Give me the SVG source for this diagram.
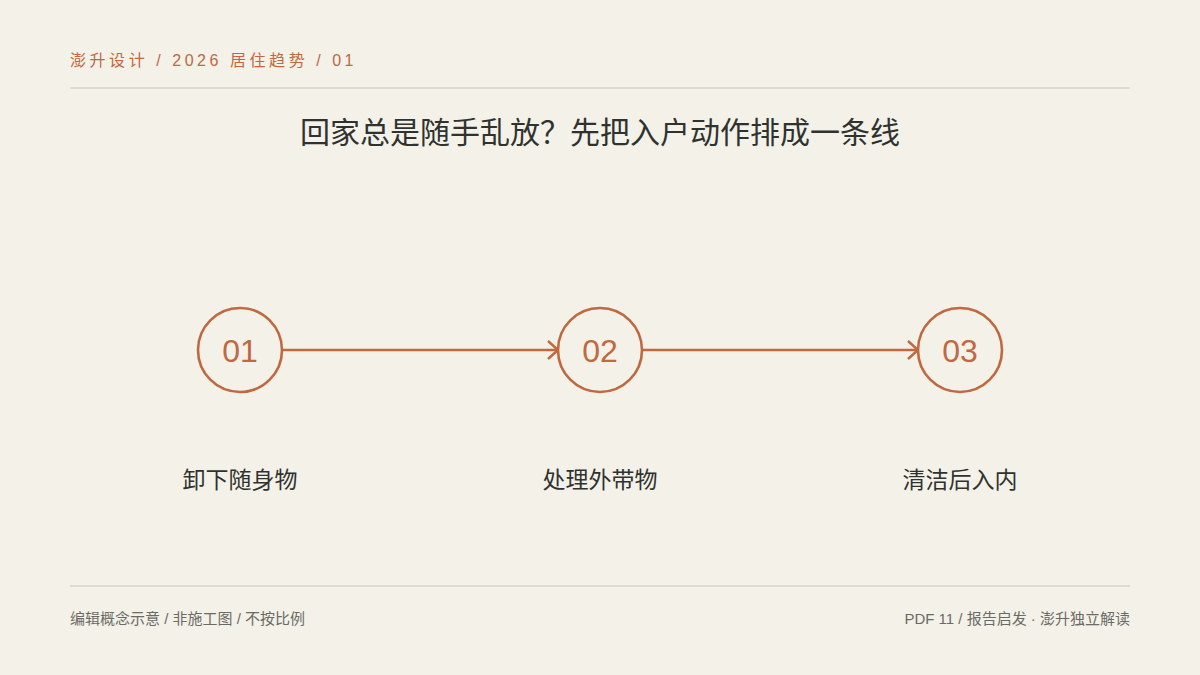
<svg xmlns="http://www.w3.org/2000/svg" width="1200" height="675" viewBox="0 0 1200 675">
<style>
text{font-family:"Liberation Sans","Noto Sans CJK SC",sans-serif}
.hdr{font-size:16px;fill:#c0683f;letter-spacing:3.55px}
.title{font-family:"Noto Sans CJK SC",sans-serif;font-size:30px;fill:#2f3330;text-anchor:middle}
.rule{stroke:#dfdbd3;stroke-width:2}
.node circle{fill:none;stroke:#c0683f;stroke-width:2.6}
.num{font-size:32px;fill:#c0683f;text-anchor:middle}
.lbl{font-family:"Noto Sans CJK SC",sans-serif;font-size:23px;fill:#2f3330;text-anchor:middle}
.edge{stroke:#c0683f;stroke-width:2.6;fill:none}
.foot{font-size:15px;fill:#6b6b66}
</style>
<defs>
<marker id="arr" viewBox="0 0 12 20" refX="11" refY="10" markerWidth="12" markerHeight="20" markerUnits="userSpaceOnUse" orient="auto">
<path d="M1,1 L11,10 L1,19" fill="none" stroke="#c0683f" stroke-width="2.4"/>
</marker>
</defs>
<rect width="1200" height="675" fill="#f4f1e9"/>
<text class="hdr" x="70" y="66">澎升设计 / 2026 居住趋势 / 01</text>
<line class="rule" x1="70" y1="88" x2="1130" y2="88"/>
<text class="title" x="600" y="143">回家总是随手乱放？先把入户动作排成一条线</text>
<g id="connectors">
<line class="edge" x1="282" y1="350" x2="558" y2="350" marker-end="url(#arr)"/>
<line class="edge" x1="642" y1="350" x2="918" y2="350" marker-end="url(#arr)"/>
</g>
<g id="node-01" class="node">
<circle cx="240" cy="350" r="42"/>
<text class="num" x="240" y="362">01</text>
<text class="lbl" x="240" y="488">卸下随身物</text>
</g>
<g id="node-02" class="node">
<circle cx="600" cy="350" r="42"/>
<text class="num" x="600" y="362">02</text>
<text class="lbl" x="600" y="488">处理外带物</text>
</g>
<g id="node-03" class="node">
<circle cx="960" cy="350" r="42"/>
<text class="num" x="960" y="362">03</text>
<text class="lbl" x="960" y="488">清洁后入内</text>
</g>
<line class="rule" x1="70" y1="586" x2="1130" y2="586"/>
<text class="foot" x="70" y="624">编辑概念示意 / 非施工图 / 不按比例</text>
<text class="foot" x="1130" y="624" text-anchor="end">PDF 11 / 报告启发 · 澎升独立解读</text>
</svg>
